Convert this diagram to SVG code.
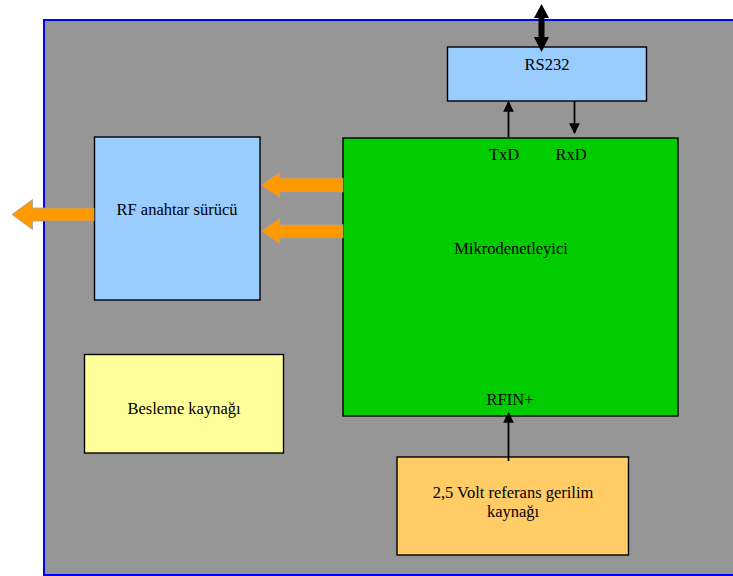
<svg xmlns="http://www.w3.org/2000/svg" width="733" height="576" viewBox="0 0 733 576">
  <defs>
    <style>
      text { font-family: "Liberation Serif", "Times New Roman", serif; font-size: 16.5px; fill: #000; text-anchor: middle; }
      .box { stroke: #000; stroke-width: 1.4; }
      .wire { stroke: #000; stroke-width: 1.8; fill: none; }
      .fat { fill: #FF9900; stroke: #A0A0A0; stroke-width: 0.8; }
    </style>
    <marker id="tip" viewBox="0 0 10 10" refX="9" refY="5" markerWidth="6" markerHeight="6" orient="auto" markerUnits="strokeWidth">
      <path d="M0,0 L10,5 L0,10 Z" fill="#000"/>
    </marker>
  </defs>

  <rect width="733" height="576" fill="#fff"/>

  <!-- board outline -->
  <g id="board">
    <rect x="44" y="20" width="700" height="555" fill="#969696" stroke="#0000FF" stroke-width="2"/>
  </g>

  <g id="rs232">
    <rect class="box" x="447.5" y="47" width="199" height="54" fill="#99CCFF"/>
    <text x="547" y="70">RS232</text>
  </g>

  <g id="mcu">
    <rect class="box" x="343" y="138" width="335" height="278" fill="#00CC00"/>
    <text x="504" y="160">TxD</text>
    <text x="571" y="160">RxD</text>
    <text x="511" y="254">Mikrodenetleyici</text>
    <text x="510" y="405">RFIN+</text>
  </g>

  <g id="rf-driver">
    <rect class="box" x="94.5" y="137" width="165.5" height="163" fill="#99CCFF"/>
    <text x="177" y="215">RF anahtar sürücü</text>
  </g>

  <g id="power">
    <rect class="box" x="84.5" y="354.5" width="199" height="98.5" fill="#FFFF99"/>
    <text x="184" y="414">Besleme kaynağı</text>
  </g>

  <g id="vref">
    <rect class="box" x="397" y="457" width="231.5" height="98" fill="#FFCC66"/>
    <text x="513" y="498">2,5 Volt referans gerilim</text>
    <text x="513" y="517">kaynağı</text>
  </g>

  <g id="connectors">
    <!-- serial port, both directions -->
    <path d="M541.5,4 L549,18 L544.5,18 L544.5,37 L549,37 L541.5,52 L534,37 L538.5,37 L538.5,18 L534,18 Z" fill="#000"/>
    <!-- TxD / RxD -->
    <line class="wire" x1="508.5" y1="137" x2="508.5" y2="102" marker-end="url(#tip)"/>
    <line class="wire" x1="574.5" y1="101" x2="574.5" y2="133" marker-end="url(#tip)"/>
    <!-- reference voltage to RFIN+ -->
    <line class="wire" x1="508.5" y1="461" x2="508.5" y2="413" marker-end="url(#tip)"/>
    <!-- control lines to the RF driver -->
    <path class="fat" d="M343,178 L280,178 L280,172 L261,185 L280,198 L280,192 L343,192 Z"/>
    <path class="fat" d="M343,224.5 L280,224.5 L280,218 L261,231 L280,244 L280,238 L343,238 Z"/>
    <!-- RF output -->
    <path class="fat" d="M94,208 L32.5,208 L32.5,199.5 L12,214.5 L32.5,229.5 L32.5,221 L94,221 Z"/>
  </g>
</svg>
